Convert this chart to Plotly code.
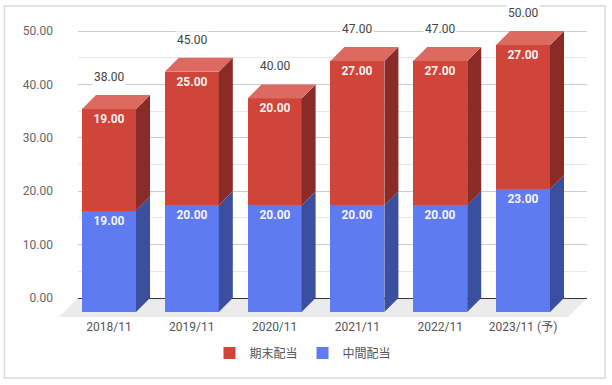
import plotly.graph_objects as go

# ---------------- data ----------------
categories = ["2018/11", "2019/11", "2020/11", "2021/11", "2022/11", "2023/11 (予)"]
interim = [19, 20, 20, 20, 20, 23]        # 中間配当
year_end = [19, 25, 20, 27, 27, 27]       # 期末配当
totals = [38, 45, 40, 47, 47, 50]
series_names = ["中間配当", "期末配当"]
y_tick_values = [0, 10, 20, 30, 40, 50]

# ---------------- styles / geometry ----------------
W, H = 612, 385
ML, MR, MT, MB = 78, 25, 8, 67
PW, PH = W - ML - MR, H - MT - MB
X_SCALE = 82.8      # px per category
Y_SCALE = 5.34      # px per unit
X0_PX = 109 - ML    # px of category 0 (front centre) inside plot area
Y0_PX = 298 - MT    # px of value 0 (back plane) inside plot area
DEPTH_PX = 14
FLOOR_DEPTH_PX = 19
BAR_W = 54 / X_SCALE
DX = DEPTH_PX / X_SCALE
DY = DEPTH_PX / Y_SCALE

x_range = [-X0_PX / X_SCALE, (PW - X0_PX) / X_SCALE]
y_range = [-(PH - Y0_PX) / Y_SCALE, Y0_PX / Y_SCALE]

FONT = "Roboto, 'Noto Sans CJK JP', sans-serif"
RED, RED_TOP, RED_SIDE = "#CF4539", "#DC6A61", "#8A2B27"
BLUE, BLUE_SIDE = "#5F7BF2", "#3B4FA1"

xs = list(range(len(categories)))
mids = [a for a in interim]
tops = [a + b for a, b in zip(interim, year_end)]

fig = go.Figure()

# front faces
fig.add_trace(go.Bar(
    x=xs, y=interim, base=[-DY] * len(xs), width=BAR_W, name=series_names[0],
    marker=dict(color=BLUE, line=dict(width=0)),
    text=[f"{v:.2f}" for v in interim], textposition="inside", insidetextanchor="end",
    textfont=dict(color="rgba(255,255,255,0.95)", size=12, family=FONT, weight="bold"),
    textangle=0, hoverinfo="skip", legendrank=2,
))
fig.add_trace(go.Bar(
    x=xs, y=year_end, base=[m - DY for m in mids], width=BAR_W, name=series_names[1],
    marker=dict(color=RED, line=dict(width=0)),
    text=[f"{v:.2f}" for v in year_end], textposition="inside", insidetextanchor="end",
    textfont=dict(color="rgba(255,255,255,0.95)", size=12, family=FONT, weight="bold"),
    textangle=0, hoverinfo="skip", legendrank=1,
))


def side_polys(lows, highs):
    px, py = [], []
    for i, lo, hi in zip(xs, lows, highs):
        xr = i + BAR_W / 2
        px += [xr, xr + DX, xr + DX, xr, xr, None]
        py += [lo - DY, lo, hi, hi - DY, lo - DY, None]
    return px, py


bx, by = side_polys([0] * len(xs), mids)
fig.add_trace(go.Scatter(x=bx, y=by, mode="lines", fill="toself", fillcolor=BLUE_SIDE,
                         line=dict(width=0, color=BLUE_SIDE), showlegend=False, hoverinfo="skip"))
rx, ry = side_polys(mids, tops)
fig.add_trace(go.Scatter(x=rx, y=ry, mode="lines", fill="toself", fillcolor=RED_SIDE,
                         line=dict(width=0, color=RED_SIDE), showlegend=False, hoverinfo="skip"))
tx, ty = [], []
for i, t in zip(xs, tops):
    xl, xr = i - BAR_W / 2, i + BAR_W / 2
    tx += [xl, xr, xr + DX, xl + DX, xl, None]
    ty += [t - DY, t - DY, t, t, t - DY, None]
fig.add_trace(go.Scatter(x=tx, y=ty, mode="lines", fill="toself", fillcolor=RED_TOP,
                         line=dict(width=0, color=RED_TOP), showlegend=False, hoverinfo="skip"))

# total labels
for i, t in zip(xs, totals):
    fig.add_annotation(x=i, y=t + 3.4, text=f"{t:.2f}", showarrow=False,
                       font=dict(size=12, color="#444444", family=FONT),
                       bgcolor="white", borderpad=1)


# floor (paper coords computed from the axis mapping)
def to_paper(xv, yv):
    return ((xv - x_range[0]) / (x_range[1] - x_range[0]),
            (yv - y_range[0]) / (y_range[1] - y_range[0]))


fdx = FLOOR_DEPTH_PX / X_SCALE
fdy = FLOOR_DEPTH_PX / Y_SCALE
floor_pts = [(x_range[0], 0), (x_range[1], 0), (x_range[1] - fdx, -fdy), (x_range[0] - fdx, -fdy)]
pp = [to_paper(a, b) for a, b in floor_pts]
path = "M " + " L ".join(f"{a},{b}" for a, b in pp) + " Z"
fig.add_shape(type="path", path=path, xref="paper", yref="paper", layer="below",
              fillcolor="#EBEBEB", line=dict(width=0))

# outer border
fig.add_shape(type="rect", xref="paper", yref="paper",
              x0=(4.5 - ML) / PW, x1=(605 - ML) / PW, y0=(H - MB - 378) / PH, y1=(H - MB - 6) / PH,
              line=dict(color="#D9D9D9", width=1.5), fillcolor="rgba(0,0,0,0)", layer="below")

fig.update_layout(
    width=W, height=H, margin=dict(l=ML, r=MR, t=MT, b=MB, autoexpand=False),
    paper_bgcolor="white", plot_bgcolor="rgba(0,0,0,0)",
    barmode="overlay", bargap=0,
    font=dict(family=FONT, size=12, color="#555555"),
    showlegend=True,
    legend=dict(orientation="h", xanchor="center", x=(303 - ML) / PW, yanchor="middle",
                y=(H - MB - 353) / PH, font=dict(size=12, color="#555555", family=FONT),
                traceorder="normal", bgcolor="rgba(0,0,0,0)"),
    xaxis=dict(range=x_range, tickvals=xs, ticktext=categories, showgrid=False, zeroline=False,
               showline=False, ticks="", tickfont=dict(size=12, color="#555555")),
    yaxis=dict(range=y_range, tickvals=y_tick_values, ticktext=[f"{v:.2f}" for v in y_tick_values],
               showgrid=True, gridcolor="#CCCCCC", gridwidth=1,
               minor=dict(dtick=5, tick0=0, showgrid=True, gridcolor="#E8E8E8", ticks=""),
               zeroline=True, zerolinecolor="#333333", zerolinewidth=1.2,
               showline=False, ticks="", ticklabelstandoff=24,
               tickfont=dict(size=12, color="#666666")),
)

fig.write_html("out.html", config={"displayModeBar": False},
               post_script="document.body.style.margin='0';document.body.style.overflow='hidden';")
